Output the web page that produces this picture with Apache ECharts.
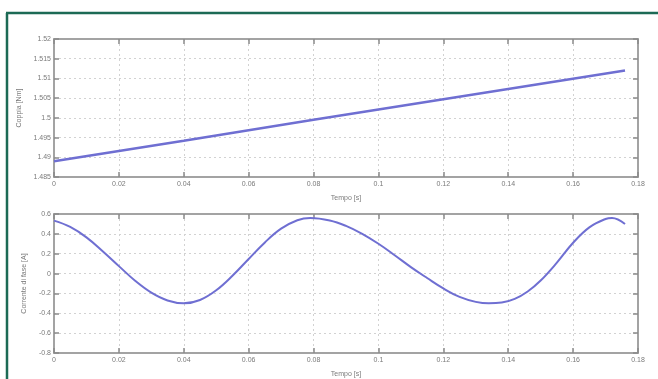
<!DOCTYPE html>
<html>
<head>
<meta charset="utf-8">
<script src="https://cdn.jsdelivr.net/npm/echarts@6/dist/echarts.min.js"></script>
<style>
  html, body { margin: 0; padding: 0; background: #ffffff; }
  #chart { width: 658px; height: 379px; }
</style>
</head>
<body>
<div id="chart"></div>
<script>
// Time samples [s] and torque [Nm]
const torqueTime = [0, 0.04, 0.08, 0.12, 0.176];
const torqueValues = [1.489, 1.4942, 1.4995, 1.5047, 1.512];

// Time samples [s] and phase current [A]
const currentTime = [0, 0.005, 0.01, 0.015, 0.02, 0.025, 0.03, 0.035, 0.04, 0.045, 0.05, 0.055,
  0.06, 0.065, 0.07, 0.075, 0.079, 0.085, 0.09, 0.095, 0.1, 0.105, 0.11, 0.115, 0.12, 0.125,
  0.13, 0.134, 0.138, 0.142, 0.146, 0.15, 0.155, 0.16, 0.165, 0.17, 0.172, 0.176];
const currentValues = [0.533, 0.470, 0.365, 0.225, 0.075, -0.072, -0.192, -0.271, -0.30, -0.266,
  -0.168, -0.022, 0.147, 0.314, 0.452, 0.537, 0.56, 0.535, 0.48, 0.40, 0.30, 0.185, 0.065,
  -0.045, -0.15, -0.235, -0.285, -0.30, -0.292, -0.255, -0.18, -0.07, 0.11, 0.31, 0.465, 0.55,
  0.56, 0.50];

// Axis settings
const timeTicks = { min: 0, max: 0.18, step: 0.02 };
const torqueTicks = { min: 1.485, max: 1.52, step: 0.005 };
const currentTicks = { min: -0.8, max: 0.6, step: 0.2 };

const axisTitleX = 'Tempo [s]';
const axisTitleTorque = 'Coppia [Nm]';
const axisTitleCurrent = 'Corrente di fase [A]';

const chart = echarts.init(document.getElementById('chart'), null, { renderer: 'canvas' });

const boxColor = '#a3a3a3';
const labelColor = '#7a7a7a';
const lineColor = '#6f6fd2';
const font = 'Liberation Sans, Arial, sans-serif';

function pairs(xs, ys) { return xs.map((x, i) => [x, ys[i]]); }

function xAxisMain(gridIndex) {
  return {
    type: 'value', gridIndex, min: timeTicks.min, max: timeTicks.max, interval: timeTicks.step,
    name: axisTitleX, nameLocation: 'middle', nameGap: 18,
    nameTextStyle: { color: labelColor, fontSize: 7, fontFamily: font },
    axisLine: { onZero: false, lineStyle: { color: boxColor, width: 2 } },
    axisTick: { inside: true, length: 5, lineStyle: { color: '#8a8a8a', width: 1.5 } },
    axisLabel: { color: labelColor, fontSize: 7, margin: 4, fontFamily: font },
    splitLine: { show: true, lineStyle: { color: '#d2d2d2', type: [2, 3], width: 1 } }
  };
}
function xAxisTop(gridIndex) {
  return {
    type: 'value', gridIndex, position: 'top', min: timeTicks.min, max: timeTicks.max, interval: timeTicks.step,
    axisLine: { onZero: false, lineStyle: { color: boxColor, width: 2 } },
    axisTick: { inside: true, length: 5, lineStyle: { color: '#8a8a8a', width: 1.5 } },
    axisLabel: { show: false }, splitLine: { show: false }
  };
}
function yAxisMain(gridIndex, ticks, title, gap) {
  return {
    type: 'value', gridIndex, min: ticks.min, max: ticks.max, interval: ticks.step,
    name: title, nameLocation: 'middle', nameGap: gap, nameRotate: 90,
    nameTextStyle: { color: labelColor, fontSize: 7, fontFamily: font },
    axisLine: { onZero: false, lineStyle: { color: boxColor, width: 2 } },
    axisTick: { inside: true, length: 5, lineStyle: { color: '#8a8a8a', width: 1.5 } },
    axisLabel: { color: labelColor, fontSize: 7, margin: 3, fontFamily: font },
    splitLine: { show: true, lineStyle: { color: '#d2d2d2', type: [2, 3], width: 1 } }
  };
}
function yAxisRight(gridIndex, ticks) {
  return {
    type: 'value', gridIndex, position: 'right', min: ticks.min, max: ticks.max, interval: ticks.step,
    axisLine: { show: true, onZero: false, lineStyle: { color: boxColor, width: 2 } },
    axisTick: { show: true, inside: true, length: 5, lineStyle: { color: '#8a8a8a', width: 1.5 } },
    axisLabel: { show: false }, splitLine: { show: false }
  };
}

chart.setOption({
  animation: false,
  backgroundColor: '#ffffff',
  grid: [
    { left: 54, right: 20, top: 39, height: 138 },
    { left: 54, right: 20, top: 214, height: 140 }
  ],
  xAxis: [xAxisMain(0), xAxisTop(0), xAxisMain(1), xAxisTop(1)],
  yAxis: [
    yAxisMain(0, torqueTicks, axisTitleTorque, 30),
    yAxisRight(0, torqueTicks),
    yAxisMain(1, currentTicks, axisTitleCurrent, 24),
    yAxisRight(1, currentTicks)
  ],
  series: [
    {
      type: 'line', xAxisIndex: 0, yAxisIndex: 0, data: pairs(torqueTime, torqueValues),
      showSymbol: false, lineStyle: { color: lineColor, width: 2.5 }
    },
    {
      type: 'line', xAxisIndex: 2, yAxisIndex: 2, data: pairs(currentTime, currentValues),
      showSymbol: false, smooth: 0.4, lineStyle: { color: lineColor, width: 2 }
    }
  ],
  graphic: [
    { type: 'line', shape: { x1: 7, y1: 13, x2: 7, y2: 379 }, style: { stroke: '#1c6a55', lineWidth: 2.5 } },
    { type: 'line', shape: { x1: 6, y1: 13, x2: 658, y2: 13 }, style: { stroke: '#1c6a55', lineWidth: 2.5 } }
  ]
});
</script>
</body>
</html>
